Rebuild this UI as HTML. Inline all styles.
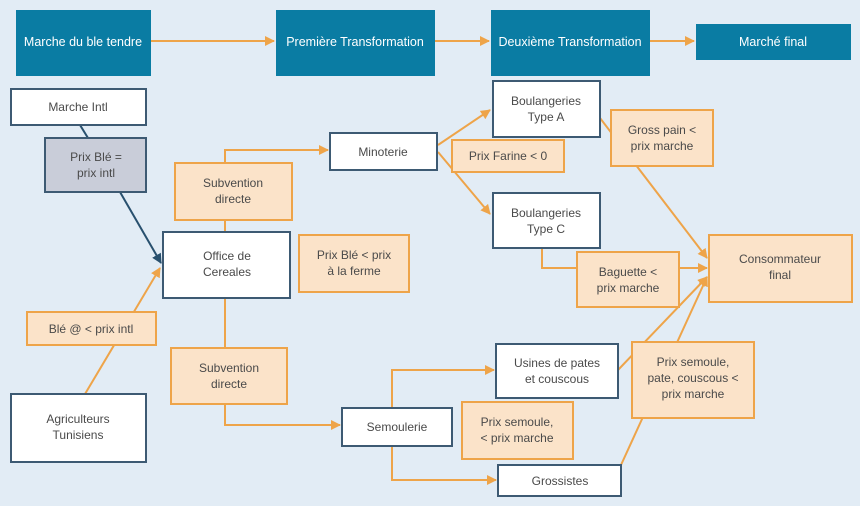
<!DOCTYPE html>
<html><head><meta charset="utf-8"><style>
html,body{margin:0;padding:0;background:#e2ecf5;}
svg{display:block}
text{font-family:"Liberation Sans",sans-serif;font-size:12px;fill:#4a4a4a;text-anchor:middle}
.h{fill:#fff;font-size:12.5px}
.w{fill:#fff;stroke:#3d5a73;stroke-width:2}
.o{fill:#fbe3c9;stroke:#eea449;stroke-width:2}
.g{fill:#c9cdd9;stroke:#3d5a73;stroke-width:2}
.t{fill:#0a7ca3}
.l{fill:none;stroke:#eea449;stroke-width:2}
.d{fill:none;stroke:#28506e;stroke-width:2}
</style></head><body>
<svg width="860" height="506" viewBox="0 0 860 506" xmlns="http://www.w3.org/2000/svg">
<defs>
<marker id="a" viewBox="0 0 10 10" refX="9" refY="5" markerWidth="10" markerHeight="10" markerUnits="userSpaceOnUse" orient="auto"><path d="M0,0L10,5L0,10z" fill="#eea449"/></marker>
<marker id="b" viewBox="0 0 10 10" refX="9" refY="5" markerWidth="10" markerHeight="10" markerUnits="userSpaceOnUse" orient="auto"><path d="M0,0L10,5L0,10z" fill="#28506e"/></marker>
</defs>
<rect width="860" height="506" fill="#e2ecf5"/>
<!-- header -->
<rect class="t" x="16" y="10" width="135" height="66"/>
<rect class="t" x="276" y="10" width="159" height="66"/>
<rect class="t" x="491" y="10" width="159" height="66"/>
<rect class="t" x="696" y="24" width="155" height="36"/>
<text class="h" x="83" y="46">Marche du ble tendre</text>
<text class="h" x="355" y="46">Première Transformation</text>
<text class="h" x="570" y="46">Deuxième Transformation</text>
<text class="h" x="773" y="46">Marché final</text>
<line class="l" x1="151" y1="41" x2="274" y2="41" marker-end="url(#a)"/>
<line class="l" x1="435" y1="41" x2="489" y2="41" marker-end="url(#a)"/>
<line class="l" x1="650" y1="41" x2="694" y2="41" marker-end="url(#a)"/>
<!-- connectors -->
<line class="d" x1="80" y1="125" x2="88" y2="138"/>
<line class="d" x1="120" y1="192" x2="161" y2="263" marker-end="url(#b)"/>
<line class="l" x1="85" y1="394" x2="160" y2="268" marker-end="url(#a)"/>
<polyline class="l" points="225,232 225,150 328,150" marker-end="url(#a)"/>
<polyline class="l" points="225,298 225,425 340,425" marker-end="url(#a)"/>
<line class="l" x1="438" y1="145" x2="490" y2="110" marker-end="url(#a)"/>
<line class="l" x1="438" y1="152" x2="490" y2="214" marker-end="url(#a)"/>
<line class="l" x1="600" y1="118" x2="707" y2="258" marker-end="url(#a)"/>
<polyline class="l" points="542,248 542,268 707,268" marker-end="url(#a)"/>
<line class="l" x1="618" y1="370" x2="707" y2="277" marker-end="url(#a)"/>
<line class="l" x1="621" y1="465" x2="707" y2="277" marker-end="url(#a)"/>
<polyline class="l" points="392,408 392,370 494,370" marker-end="url(#a)"/>
<polyline class="l" points="392,446 392,480 496,480" marker-end="url(#a)"/>
<!-- boxes -->
<rect class="w" x="11" y="89" width="135" height="36"/><text x="78" y="111">Marche Intl</text>
<rect class="g" x="45" y="138" width="101" height="54"/><text x="96" y="161">Prix Blé =</text><text x="96" y="177">prix intl</text>
<rect class="o" x="175" y="163" width="117" height="57"/><text x="233" y="187">Subvention</text><text x="233" y="203">directe</text>
<rect class="w" x="163" y="232" width="127" height="66"/><text x="227" y="260">Office de</text><text x="227" y="276">Cereales</text>
<rect class="o" x="299" y="235" width="110" height="57"/><text x="354" y="259">Prix Blé &lt; prix</text><text x="354" y="275">à la ferme</text>
<rect class="w" x="330" y="133" width="107" height="37"/><text x="383" y="156">Minoterie</text>
<rect class="o" x="27" y="312" width="129" height="33"/><text x="91" y="333">Blé @ &lt; prix intl</text>
<rect class="w" x="11" y="394" width="135" height="68"/><text x="78" y="423">Agriculteurs</text><text x="78" y="439">Tunisiens</text>
<rect class="o" x="171" y="348" width="116" height="56"/><text x="229" y="372">Subvention</text><text x="229" y="388">directe</text>
<rect class="w" x="342" y="408" width="110" height="38"/><text x="397" y="431">Semoulerie</text>
<rect class="w" x="493" y="81" width="107" height="56"/><text x="546" y="105">Boulangeries</text><text x="546" y="121">Type A</text>
<rect class="o" x="452" y="140" width="112" height="32"/><text x="508" y="160">Prix Farine &lt; 0</text>
<rect class="o" x="611" y="110" width="102" height="56"/><text x="662" y="134">Gross pain &lt;</text><text x="662" y="150">prix marche</text>
<rect class="w" x="493" y="193" width="107" height="55"/><text x="546" y="217">Boulangeries</text><text x="546" y="233">Type C</text>
<rect class="o" x="577" y="252" width="102" height="55"/><text x="628" y="276">Baguette &lt;</text><text x="628" y="292">prix marche</text>
<rect class="o" x="709" y="235" width="143" height="67"/><text x="780" y="263">Consommateur</text><text x="780" y="279">final</text>
<rect class="w" x="496" y="344" width="122" height="54"/><text x="557" y="367">Usines de pates</text><text x="557" y="383">et couscous</text>
<rect class="o" x="462" y="402" width="111" height="57"/><text x="517" y="426">Prix semoule,</text><text x="517" y="442">&lt; prix marche</text>
<rect class="o" x="632" y="342" width="122" height="76"/><text x="693" y="366">Prix semoule,</text><text x="693" y="382">pate, couscous &lt;</text><text x="693" y="398">prix marche</text>
<rect class="w" x="498" y="465" width="123" height="31"/><text x="560" y="485">Grossistes</text>
</svg>
</body></html>
